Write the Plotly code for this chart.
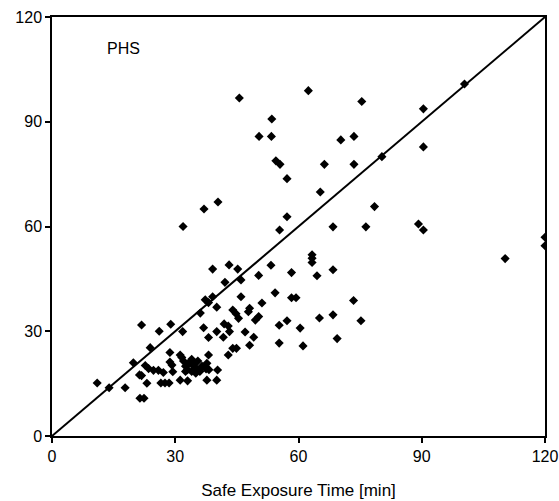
import plotly.graph_objects as go

# Safe exposure time (x) vs. predicted (y), PHS model
x_vals = [
    45.6, 62.4, 75.4, 53.5, 50.4, 53.4, 70.3, 73.5, 54.5, 55.5, 66.3, 73.5, 57.2, 65.3, 78.5,
    40.4, 37.0, 31.9, 57.2, 55.4, 68.4, 76.4, 100.4, 90.4, 90.4, 80.3, 89.2, 90.4, 120.0, 120.0, 110.3,
    63.3, 63.3, 63.3, 53.3, 58.3, 64.5, 68.4, 50.3, 54.3, 58.3, 59.4, 73.4, 51.1, 65.1, 68.4, 75.2,
    55.3, 57.2, 60.4, 55.3, 61.1, 69.4,
    39.1, 43.1, 45.2, 42.1, 46.0, 37.3, 38.1, 39.1, 46.0, 40.1, 48.1, 47.8, 44.0, 44.8, 45.4, 36.1,
    50.3, 49.5, 28.9, 26.1, 31.8, 36.9, 40.1, 41.9, 42.9, 43.2, 47.0, 21.8, 23.9, 38.1, 41.7, 49.1, 48.1,
    11.0, 13.9, 17.8, 19.8, 21.3, 21.8, 21.4, 22.4, 23.1, 22.7, 23.5, 24.7, 25.9, 27.1, 26.5, 27.5, 28.5,
    28.7, 28.7, 29.2, 29.4, 31.2, 33.0, 31.2, 31.6, 38.1, 37.7, 37.5, 38.2, 40.3, 37.7, 40.1,
    42.9, 44.0, 44.9,
    32.0, 32.5, 33.0, 33.5, 34.0, 34.5, 35.0, 35.5, 36.0, 34.0, 33.0, 35.0, 36.5, 32.5, 34.8,
]
y_vals = [
    96.8, 98.9, 95.8, 90.8, 85.8, 85.8, 84.8, 85.8, 78.8, 77.8, 77.8, 77.8, 73.7, 69.9, 65.7,
    67.0, 65.0, 60.0, 62.8, 59.0, 59.9, 59.9, 100.8, 93.7, 82.8, 80.0, 60.7, 59.0, 56.9, 54.5, 50.8,
    51.9, 50.9, 49.7, 48.9, 46.8, 45.9, 47.6, 46.0, 41.0, 39.6, 39.6, 38.8, 38.1, 33.8, 34.7, 33.0,
    31.7, 33.0, 30.9, 26.6, 25.8, 27.9,
    47.8, 49.0, 47.8, 44.0, 44.7, 39.0, 38.2, 39.9, 39.9, 36.9, 36.6, 35.6, 36.1, 35.0, 33.7, 35.2,
    34.2, 33.2, 32.0, 30.0, 29.9, 31.0, 29.9, 32.1, 31.5, 29.9, 29.8, 31.8, 25.3, 28.2, 28.3, 28.3, 26.0,
    15.2, 13.8, 13.8, 21.0, 17.5, 17.3, 10.8, 10.8, 15.1, 20.2, 19.3, 18.8, 18.8, 18.2, 15.2, 15.2, 15.2,
    23.9, 21.2, 20.3, 18.4, 16.0, 15.8, 23.2, 22.5, 23.2, 20.8, 19.2, 19.0, 18.9, 16.0, 16.0,
    23.2, 25.1, 25.1,
    21.5, 20.0, 19.0, 21.0, 18.5, 20.0, 19.5, 21.5, 18.5, 22.0, 20.5, 18.0, 20.0, 18.5, 20.8,
]
line_x = [0, 120]
line_y = [0, 120]
tick_vals = [0, 30, 60, 90, 120]
tick_text = ["0", "30", "60", "90", "120"]
x_title = "Safe Exposure Time [min]"
label_text = "PHS"

FONT = "Arial, Liberation Sans, sans-serif"

fig = go.Figure()
fig.add_trace(go.Scatter(
    x=line_x, y=line_y, mode="lines",
    line=dict(color="black", width=2), showlegend=False, hoverinfo="skip",
))
fig.add_trace(go.Scatter(
    x=x_vals, y=y_vals, mode="markers",
    marker=dict(symbol="diamond", size=7, color="black", line=dict(width=0)),
    showlegend=False,
))

fig.add_annotation(
    x=12.8, y=111, xref="x", yref="y", text=label_text, showarrow=False,
    xanchor="left", yanchor="middle", font=dict(family=FONT, size=16, color="black"),
)

axis_common = dict(
    range=[0, 120], tickvals=tick_vals, ticktext=tick_text, automargin=False,
    showgrid=False, zeroline=False, showline=True, linecolor="black", linewidth=1.5,
    mirror=True, ticks="outside", ticklen=5, tickcolor="black", tickwidth=1.5,
    tickfont=dict(family=FONT, size=16, color="black"),
)

fig.update_layout(
    width=559, height=501,
    margin=dict(l=52, r=14, t=17, b=65, autoexpand=False),
    paper_bgcolor="white", plot_bgcolor="white",
    xaxis=dict(**axis_common, title=dict(text=x_title, font=dict(family=FONT, size=17, color="black"), standoff=20)),
    yaxis=dict(**axis_common),
)

fig.write_html("out.html")
